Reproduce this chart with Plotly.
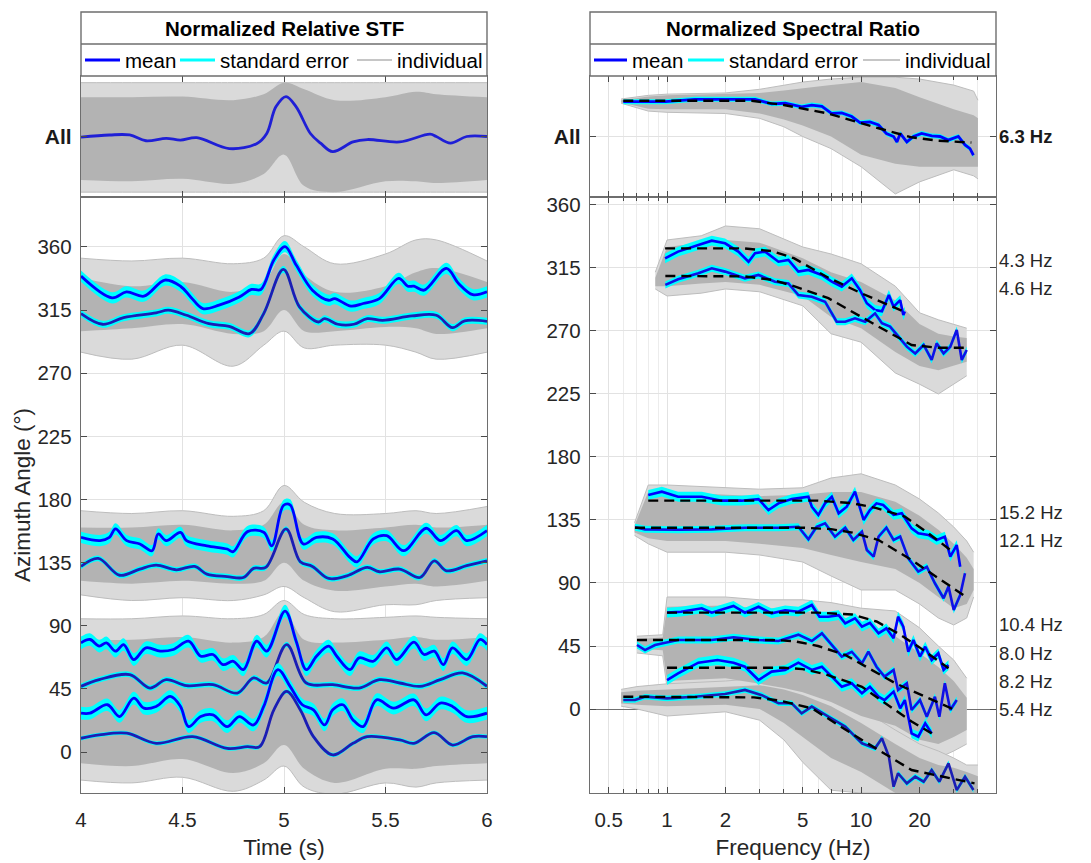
import plotly.graph_objects as go

# page body has an 8px margin; the figure is sized/positioned to compensate
OFF = 8
W, H = 1091 - OFF, 863 - OFF
FONT = "Liberation Sans, Arial, Helvetica, sans-serif"
BLUE = "#0000ff"
DBLUE = "#1c1cb4"
RBLUE = "#1010e6"
CYAN = "#00ffff"
G_IN = "#b3b3b3"
G_OUT = "#dadada"
G_EDGE = "#bdbdbd"

# ======================= LEFT: Normalized Relative STF =======================
# "All" panel (normalized amplitude, 0 = baseline)
all_t = [4.0, 4.14, 4.24, 4.32, 4.42, 4.49, 4.57, 4.73, 4.865, 4.915, 4.96, 5.01, 5.06, 5.13,
         5.18, 5.24, 5.34, 5.41, 5.57, 5.72, 5.75, 5.82, 5.90, 6.0]
all_mean = [-0.01, 0.025, 0.025, -0.07, -0.03, -0.06, -0.02, -0.2, -0.12, 0.05, 0.49, 0.66, 0.49,
            0.05, -0.11, -0.25, -0.09, -0.05, -0.09, 0.04, 0.0, -0.11, 0.0, 0.0]
env_t = [4.0, 4.25, 4.5, 4.75, 4.9, 5.0, 5.1, 5.25, 5.5, 5.65, 5.75, 6.0]
all_out_hi = [0.89, 0.89, 0.89, 0.89, 0.89, 0.89, 0.89, 0.89, 0.89, 0.89, 0.89, 0.89]
all_out_lo = [-0.92, -0.92, -0.92, -0.92, -0.92, -0.92, -0.92, -0.92, -0.92, -0.92, -0.92, -0.92]
all_in_hi = [0.65, 0.65, 0.66, 0.6, 0.7, 0.89, 0.78, 0.6, 0.65, 0.74, 0.7, 0.65]
all_in_lo = [-0.72, -0.74, -0.7, -0.78, -0.62, -0.3, -0.82, -0.92, -0.74, -0.74, -0.77, -0.72]

# azimuth-stacked mean STFs (deg)
a_t = [4.0, 4.153, 4.224, 4.31, 4.413, 4.49, 4.54, 4.60, 4.68, 4.78, 4.84, 4.886, 4.95, 5.005, 5.06,
       5.14, 5.22, 5.25, 5.33, 5.39, 5.47, 5.565, 5.61, 5.64, 5.69, 5.80, 5.86, 5.93, 6.0]
a_v = [339.2, 323.7, 328, 324.9, 336.4, 332, 324.4, 316.1, 318.5, 324.4, 329.7, 329.7, 350.7, 360.2,
       347.1, 329.2, 322, 323.2, 317.8, 319.7, 323.2, 337.6, 332, 332, 329.2, 344.7, 334, 326, 328]
b_t = [4.0, 4.106, 4.21, 4.37, 4.43, 4.52, 4.63, 4.73, 4.83, 4.90, 4.997, 5.076, 5.17, 5.20, 5.265,
       5.344, 5.41, 5.486, 5.63, 5.75, 5.83, 5.89, 6.0]
b_v = [312.5, 304.9, 309.6, 313, 314.9, 311.3, 305.3, 303.4, 298.2, 312.5, 344, 317.3, 306.5, 308.9,
       304.9, 304.9, 308.9, 307.7, 310.8, 311.3, 302.5, 307.3, 307]
c_t = [4.0, 4.094, 4.14, 4.17, 4.225, 4.29, 4.35, 4.38, 4.42, 4.49, 4.52, 4.62, 4.72, 4.75, 4.82, 4.90,
       4.94, 4.997, 5.03, 5.095, 5.16, 5.24, 5.325, 5.36, 5.44, 5.506, 5.59, 5.70, 5.77, 5.85, 5.90, 6.0]
c_v = [153, 150.7, 153, 159, 150.7, 148.3, 143.5, 155.4, 150.7, 156.6, 150.7, 147, 144.7, 142.8, 157.1,
       156.6, 147, 175.7, 176.2, 148.3, 153, 151.9, 138.7, 135.6, 151.9, 154.2, 143.5, 159.5, 150.7,
       157.8, 150.7, 157.8]
d_t = [4.0, 4.085, 4.19, 4.29, 4.37, 4.47, 4.56, 4.62, 4.72, 4.80, 4.85, 4.91, 5.01, 5.08, 5.14, 5.22,
       5.31, 5.41, 5.47, 5.57, 5.67, 5.74, 5.80, 5.90, 6.0]
d_v = [132.3, 138, 126, 130.4, 133.2, 129.9, 132.3, 126.8, 125.1, 124.4, 130.9, 131.6, 159, 135.6,
       132.3, 123.7, 125.6, 131.6, 128.5, 130.4, 124.4, 136.3, 129.2, 132.8, 136.3]
e_t = [4.0, 4.044, 4.09, 4.125, 4.17, 4.21, 4.26, 4.32, 4.39, 4.455, 4.53, 4.59, 4.65, 4.70, 4.75, 4.80,
       4.865, 4.915, 5.005, 5.06, 5.11, 5.16, 5.22, 5.26, 5.325, 5.37, 5.44, 5.506, 5.555, 5.64, 5.69,
       5.74, 5.785, 5.83, 5.90, 5.965, 6.0]
e_v = [77.8, 80.2, 75.5, 77.8, 71.9, 76.6, 65.9, 74.3, 71.9, 73.1, 79, 68.3, 69.5, 62.3, 64.7, 58.7,
       79, 71.9, 100.5, 79, 58.7, 68.3, 75.5, 68.3, 58.7, 67.1, 64.7, 74.3, 65.9, 78.3, 69.5, 71.9,
       62.3, 74.3, 65.9, 80.2, 76.6]
f_t = [4.0, 4.09, 4.24, 4.34, 4.42, 4.52, 4.65, 4.77, 4.85, 4.915, 5.013, 5.11, 5.24, 5.37, 5.47, 5.57,
       5.67, 5.77, 5.88, 6.0]
f_v = [46.8, 51.6, 55.2, 45.6, 51.6, 47.3, 48, 42, 52.8, 49.2, 76.6, 49.2, 48, 45.6, 51.6, 49.2, 46.8,
       51.6, 56.4, 46.8]
g_t = [4.0, 4.044, 4.13, 4.19, 4.26, 4.31, 4.37, 4.44, 4.49, 4.53, 4.59, 4.65, 4.72, 4.78, 4.85, 4.90,
       4.97, 5.03, 5.09, 5.145, 5.20, 5.24, 5.29, 5.34, 5.39, 5.456, 5.54, 5.64, 5.70, 5.77, 5.83, 5.90,
       6.0]
g_v = [27.7, 27.7, 33.7, 25.3, 38.4, 31.3, 32.5, 39.6, 32.5, 18.1, 25.3, 26.5, 18.1, 25.3, 19.3, 32.5,
       58.7, 46.8, 33.7, 30.1, 19.3, 30.1, 33.7, 22.9, 18.1, 37.2, 31.3, 37.2, 26.5, 34.9, 32.5, 25.3,
       27.7]
h_t = [4.0, 4.09, 4.225, 4.37, 4.55, 4.72, 4.82, 4.88, 4.95, 5.013, 5.08, 5.145, 5.24, 5.34, 5.41, 5.57,
       5.64, 5.74, 5.83, 5.93, 6.0]
h_v = [9.8, 12.2, 13.4, 6.2, 11, 2.6, 3.8, 3.8, 30.1, 43.2, 30.1, 11, -2.1, 6.2, 11, 8.6, 6.2, 13.8, 5,
       11, 11]
stf_se = [4.0, 2.5, 4.0, 2.0, 4.5, 2.0, 4.5, 1.5]

# gray envelopes of the individual STFs
top_out_hi = [352, 350, 352, 348, 352, 368, 360, 348, 355, 365, 365, 350]
top_out_lo = [285, 280, 290, 275, 290, 300, 288, 290, 290, 285, 280, 285]
top_in_hi = [338, 332, 335, 328, 335, 355, 340, 328, 332, 342, 345, 335]
top_in_lo = [300, 302, 305, 298, 300, 315, 300, 300, 303, 302, 298, 302]
mid_out_hi = [172, 170, 172, 168, 172, 190, 178, 170, 170, 172, 170, 175]
mid_out_lo = [112, 108, 110, 108, 112, 118, 110, 100, 105, 105, 108, 110]
mid_in_hi = [160, 160, 162, 158, 162, 178, 162, 158, 160, 162, 160, 162]
mid_in_lo = [122, 120, 122, 120, 122, 135, 122, 115, 118, 120, 118, 122]
low_out_hi = [95, 95, 97, 95, 98, 108, 98, 95, 96, 97, 96, 95]
low_out_lo = [-20, -22, -18, -28, -20, -10, -25, -30, -22, -25, -22, -20]
low_in_hi = [80, 80, 82, 78, 82, 100, 80, 78, 80, 82, 80, 82]
low_in_lo = [-8, -10, -5, -15, -8, 5, -12, -22, -12, -12, -10, -8]

# ======================= RIGHT: Normalized Spectral Ratio =======================
rall_f = [0.595, 0.77, 0.98, 1.39, 1.99, 2.52, 2.84, 3.46, 4.06, 4.94, 5.57, 6.28, 7.06, 7.95, 8.95,
          9.86, 11.1, 12.3, 13.5, 14.7, 15.3, 15.9, 17.2, 18.6, 20.5, 23.1, 25.5, 28.1, 31.7, 34.3,
          36.4, 37.9]
rall_v = [0.575, 0.58, 0.575, 0.615, 0.62, 0.625, 0.615, 0.54, 0.55, 0.49, 0.52, 0.5, 0.38, 0.39, 0.33,
          0.23, 0.24, 0.19, 0.05, 0.0, -0.09, 0.05, -0.09, 0.0, 0.05, 0.01, 0.0, -0.06, 0.0, -0.14,
          -0.2, -0.31]
dall_f = [0.595, 2.73, 4.0, 6.78, 12.3, 18.2, 25.0, 37.0]
dall_v = [0.59, 0.59, 0.52, 0.38, 0.136, -0.013, -0.07, -0.1]
renv_all_f = [0.58, 0.8, 1, 2, 3, 4, 5, 7, 10, 15, 20, 30, 38, 40]
renv_all_out_hi = [0.62, 0.68, 0.7, 0.72, 0.78, 0.85, 0.9, 0.95, 0.98, 0.98, 0.95, 0.85, 0.75, 0.6]
renv_all_out_lo = [0.55, 0.42, 0.4, 0.38, 0.3, 0.16, 0.0, -0.2, -0.5, -0.95, -0.75, -0.55, -0.65, -0.7]
renv_all_in_hi = [0.6, 0.66, 0.68, 0.7, 0.72, 0.76, 0.8, 0.85, 0.9, 0.8, 0.65, 0.45, 0.35, 0.3]
renv_all_in_lo = [0.56, 0.46, 0.45, 0.45, 0.38, 0.28, 0.18, 0.0, -0.3, -0.45, -0.5, -0.5, -0.5, -0.5]

r43_f = [0.977, 1.14, 1.45, 1.70, 1.99, 2.33, 2.63, 2.84, 3.20, 3.75, 4.22, 4.75, 5.35, 6.27, 7.06,
         7.95, 8.95, 9.86, 10.7, 11.8, 12.8, 13.9, 14.7, 15.9, 16.5, 16.8]
r43_v = [321.9, 326.7, 331.4, 334.5, 332.6, 326.7, 319.5, 325.5, 326.7, 319.5, 320.7, 312.4, 313.6,
         310, 305.2, 301.7, 307.6, 299.3, 289.8, 285, 284, 295.7, 287.4, 292, 281.4, 284]
d43_f = [0.977, 2.5, 3.5, 4.5, 6.78, 10.0, 16.5]
d43_v = [329, 329, 327, 322, 308, 297, 284]
r46_f = [0.98, 1.14, 1.45, 1.70, 1.99, 2.52, 2.96, 3.60, 4.22, 4.75, 5.57, 6.52, 7.48, 8.28, 9.3, 10.5,
         11.8, 12.8, 14.1, 15.5, 17.2, 19.0, 21.0, 23.1, 24.5, 26.6, 28.8, 31.1, 33.0, 35.0]
r46_v = [302.9, 306.9, 311.2, 314.8, 312.4, 307.6, 310, 305.2, 304, 295.7, 294.5, 290.9, 276.6, 276.6,
         279, 276.6, 282.6, 275.5, 273.1, 265.9, 258.8, 254, 260, 249.3, 261.2, 254, 258.8, 270.7,
         249.3, 256.4]
d46_f = [0.98, 2.5, 3.5, 4.5, 6.78, 9.0, 12.3, 18.2, 25.0, 35.0]
d46_v = [309.3, 309, 306.5, 302, 293.4, 284, 273.1, 260, 258, 258]
r152_f = [0.80, 0.94, 1.14, 1.51, 1.91, 2.42, 2.96, 3.33, 3.75, 4.39, 5.35, 5.57, 6.02, 6.52, 7.06,
          7.66, 8.43, 9.3, 10.3, 11.1, 12.0, 13.0, 14.7, 16.2, 18.2, 19.7, 22.2, 24.5, 27.0, 28.8,
          31.1, 32.4]
r152_v = [152.9, 155.2, 151.6, 151.6, 148.8, 148.8, 149.9, 142.1, 146.9, 149.9, 151.6, 144.5, 138.6,
          146.9, 151.6, 139.8, 144.5, 155.2, 135, 142.1, 146.9, 145.7, 138.6, 139.8, 129, 125.5, 124.3,
          120.7, 123.1, 108.8, 117.1, 101.6]
d152_f = [0.80, 6.0, 9.0, 12.0, 16.8, 22.0, 30.0]
d152_v = [148.8, 148.8, 147, 143.5, 137.4, 126, 111.7]
r121_f = [0.684, 0.77, 1.14, 1.70, 2.52, 3.75, 4.75, 5.35, 5.9, 6.52, 7.33, 8.28, 9.12, 10.1, 10.7,
          11.6, 12.3, 13.5, 14.7, 15.9, 17.5, 19.7, 21.8, 24.0, 26.6, 28.2, 30.0, 32.4, 34.3]
r121_v = [129.8, 128.3, 128, 128.3, 129.5, 129.5, 130.2, 121.2, 130.2, 132.6, 123.1, 129.5, 120.7,
          126.6, 113.6, 108.8, 123.1, 129.5, 120.7, 123.1, 107.6, 98.1, 101.6, 89.8, 79.1, 87.4, 70.7,
          81.4, 96.9]
d121_f = [0.684, 5.0, 7.0, 9.0, 12.3, 18.2, 33.6]
d121_v = [129.5, 129.5, 128.5, 126, 120.7, 106.4, 81.4]
r104_f = [1.0, 1.18, 1.51, 1.70, 2.2, 2.52, 2.96, 3.46, 4.06, 4.75, 5.57, 6.1, 6.78, 7.66, 8.28, 9.3,
          10.1, 11.1, 12.3, 13.5, 14.7, 15.5, 16.5, 17.5, 18.6, 20.1, 21.4, 23.1, 25.0, 26.6, 28.2]
r104_v = [68.8, 69.5, 71.9, 68.8, 73.6, 68.8, 73, 68.3, 70.5, 69.5, 74.3, 65.9, 65.9, 67, 61.2, 64.8,
          58.8, 61.5, 54, 57.6, 50.5, 65.9, 58.8, 40.9, 49.3, 37.4, 44.5, 35, 39.8, 27.9, 31.4]
d104_f = [1.0, 6.0, 9.0, 12.0, 15.5, 20.0, 28.2]
d104_v = [68.8, 68.8, 67.5, 62.5, 54, 44, 29.1]
r80_f = [0.70, 0.77, 0.867, 1.14, 1.70, 2.2, 2.96, 3.75, 4.75, 5.57, 6.28, 7.06, 7.95, 8.95, 10.1, 10.9,
         12.0, 13.2, 14.7, 15.5, 17.2, 18.2, 20.1, 21.8, 24.0, 25.3, 27.0, 28.8, 31.1]
r80_v = [45.7, 42.1, 45.7, 49.3, 49.3, 51.2, 49.3, 48.6, 53.1, 48.6, 54, 45.7, 37.4, 40.9, 32.6, 40.9,
         30.2, 23.1, 27.9, 13.6, 18.4, -0.7, 6.4, -5.5, 8.8, -5.5, 18.4, -0.7, 6.4]
d80_f = [0.70, 3.5, 4.5, 6.0, 8.28, 15.0, 30.4]
d80_v = [49.3, 49.3, 48.5, 45, 38.6, 18.4, -0.7]
r82_f = [1.0, 1.14, 1.45, 1.82, 2.2, 2.52, 2.96, 3.46, 4.06, 4.75, 5.57, 6.28, 7.06, 7.95, 8.95, 10.1,
         11.1, 12.3, 13.2, 14.7, 15.9, 16.8, 18.2, 19.7, 21.4, 23.1]
r82_v = [20.7, 25.5, 33.1, 35, 33.1, 30.2, 20.7, 26.7, 27.9, 33.1, 27.9, 30.2, 23.1, 15.9, 18.4, 11.2,
         15.9, 8.8, 6.4, 12.4, 0.5, 6.4, -17.4, -19.8, -10.2, -17.4]
d82_f = [1.0, 4.0, 5.0, 6.5, 10.1, 18.2, 23.1]
d82_v = [29.5, 29.5, 28.5, 25, 15.9, -9, -17.4]
r54_f = [0.595, 0.684, 0.77, 1.0, 1.39, 1.99, 2.52, 3.08, 3.75, 4.39, 4.94, 5.57, 6.78, 8.28, 10.1,
         11.8, 12.8, 13.9, 14.7, 15.5, 17.2, 19.0, 21.0, 23.1, 25.3, 28.2, 31.1, 34.3, 37.9]
r54_v = [6.4, 6.4, 8.8, 7.6, 8.8, 10.7, 13.6, 9.9, 4.1, 4.1, -3.1, 1.7, -5.5, -12.6, -24.5, -28.1,
         -20.9, -34, -55.5, -45.9, -53.1, -48.3, -51.9, -43.6, -51.9, -38.8, -57.9, -48.3, -57.9]
d54_f = [0.595, 2.0, 2.8, 3.8, 5.57, 10.1, 18.2, 38.4]
d54_v = [8.8, 8.8, 8.3, 6, 0.5, -22.1, -43.6, -53.1]
spec_se = [3.5, 2.5, 3.5, 2.5, 3.5, 2.5, 3.5, 2.0]
spec_all_se = 0.04

# gray envelopes of individual spectral ratios
e1_f = [0.87, 1.0, 1.5, 2, 3, 5, 7, 10, 15, 20, 25, 30, 35]
e1_out_hi = [312, 335, 338, 345, 343, 330, 325, 318, 302, 283, 278, 275, 272]
e1_out_lo = [300, 295, 297, 300, 298, 288, 268, 262, 240, 232, 225, 232, 238]
e1_in_hi = [308, 330, 333, 335, 333, 322, 312, 305, 292, 275, 268, 266, 265]
e1_in_lo = [302, 302, 304, 305, 303, 295, 280, 272, 255, 245, 242, 245, 248]
e2_f = [0.68, 0.8, 1.0, 2, 3, 5, 7, 10, 15, 20, 25, 30, 35, 38]
e2_out_hi = [133, 160, 160, 158, 157, 158, 165, 168, 160, 150, 140, 130, 120, 112]
e2_out_lo = [124, 118, 112, 112, 110, 105, 95, 85, 85, 75, 65, 60, 65, 80]
e2_in_hi = [131, 155, 155, 153, 152, 153, 155, 155, 148, 138, 128, 118, 108, 100]
e2_in_lo = [126, 122, 120, 120, 118, 115, 110, 105, 100, 90, 80, 72, 75, 85]
e3_f = [0.7, 0.95, 1.0, 2, 3, 4, 5, 7, 10, 15, 20, 25, 30, 35]
e3_out_hi = [52, 53, 80, 80, 78, 78, 78, 76, 72, 70, 58, 45, 35, 22]
e3_out_lo = [40, 38, 15, 15, 12, 10, 8, 0, -10, -20, -30, -35, -30, -25]
e3_in_hi = [50, 51, 73, 74, 72, 72, 70, 68, 62, 52, 40, 30, 20, 8]
e3_in_lo = [43, 42, 20, 22, 18, 15, 12, 5, -5, -12, -22, -25, -20, -15]
e4_f = [0.58, 0.7, 1.0, 2, 3, 4, 5, 7, 10, 15, 20, 25, 30, 35, 40]
e4_out_hi = [14, 16, 18, 20, 22, 20, 15, 10, 0, -15, -25, -30, -35, -40, -40]
e4_out_lo = [2, 0, -5, -2, -8, -22, -38, -58, -60, -60, -60, -60, -60, -60, -60]
e4_in_hi = [12, 13, 14, 16, 17, 14, 10, 2, -10, -25, -35, -40, -42, -45, -48]
e4_in_lo = [4, 3, 2, 3, 0, -10, -20, -35, -45, -60, -60, -60, -60, -60, -60]

hz_labels = ["4.3 Hz", "4.6 Hz", "15.2 Hz", "12.1 Hz", "10.4 Hz", "8.0 Hz", "8.2 Hz", "5.4 Hz"]
hz_pos = [320, 300, 140, 120, 60, 40, 20, 0]

fig = go.Figure()


def band(x, lo, hi, color, xa, ya, shape="linear", edge=None):
    ew = 1 if edge else 0
    ec = edge if edge else color
    fig.add_trace(go.Scatter(x=x, y=lo, mode="lines", line=dict(width=ew, color=ec, shape=shape),
                             xaxis=xa, yaxis=ya, showlegend=False, hoverinfo="skip"))
    fig.add_trace(go.Scatter(x=x, y=hi, mode="lines", line=dict(width=ew, color=ec, shape=shape),
                             fill="tonexty", fillcolor=color, xaxis=xa, yaxis=ya,
                             showlegend=False, hoverinfo="skip"))


def mean_line(x, y, se, color, xa, ya, shape="linear", width=2.8):
    band(x, [v - se for v in y], [v + se for v in y], CYAN, xa, ya, shape)
    fig.add_trace(go.Scatter(x=x, y=y, mode="lines", line=dict(color=color, width=width, shape=shape),
                             xaxis=xa, yaxis=ya, showlegend=False))


def dashed(x, y, xa, ya):
    fig.add_trace(go.Scatter(x=x, y=y, mode="lines",
                             line=dict(color="black", width=2.4, dash="10px,6px"),
                             xaxis=xa, yaxis=ya, showlegend=False))


# ---- left top (All)
band(env_t, all_out_lo, all_out_hi, G_OUT, "x2", "y2", "spline", G_EDGE)
band(env_t, all_in_lo, all_in_hi, G_IN, "x2", "y2", "spline")
fig.add_trace(go.Scatter(x=all_t, y=all_mean, mode="lines",
                         line=dict(color="#1f1fd6", width=2.8, shape="spline"),
                         xaxis="x2", yaxis="y2", showlegend=False))

# ---- left bottom
for lo, hi, c, ed in [(top_out_lo, top_out_hi, G_OUT, G_EDGE), (top_in_lo, top_in_hi, G_IN, None),
                      (mid_out_lo, mid_out_hi, G_OUT, G_EDGE), (mid_in_lo, mid_in_hi, G_IN, None),
                      (low_out_lo, low_out_hi, G_OUT, G_EDGE), (low_in_lo, low_in_hi, G_IN, None)]:
    band(env_t, lo, hi, c, "x", "y", "spline", ed)
stf_curves = [(a_t, a_v, BLUE), (b_t, b_v, DBLUE), (c_t, c_v, BLUE), (d_t, d_v, DBLUE),
              (e_t, e_v, BLUE), (f_t, f_v, DBLUE), (g_t, g_v, BLUE), (h_t, h_v, DBLUE)]
for (tt, vv, col), se in zip(stf_curves, stf_se):
    mean_line(tt, vv, se, col, "x", "y", "spline")

# ---- right top (All)
band(renv_all_f, renv_all_out_lo, renv_all_out_hi, G_OUT, "x4", "y4", "linear", G_EDGE)
band(renv_all_f, renv_all_in_lo, renv_all_in_hi, G_IN, "x4", "y4")
mean_line(rall_f, rall_v, spec_all_se, BLUE, "x4", "y4")
dashed(dall_f, dall_v, "x4", "y4")

# ---- right bottom
for ff, lo, hi, c, ed in [(e1_f, e1_out_lo, e1_out_hi, G_OUT, G_EDGE), (e1_f, e1_in_lo, e1_in_hi, G_IN, None),
                          (e2_f, e2_out_lo, e2_out_hi, G_OUT, G_EDGE), (e2_f, e2_in_lo, e2_in_hi, G_IN, None),
                          (e3_f, e3_out_lo, e3_out_hi, G_OUT, G_EDGE), (e4_f, e4_out_lo, e4_out_hi, G_OUT, G_EDGE),
                          (e3_f, e3_in_lo, e3_in_hi, G_IN, None), (e4_f, e4_in_lo, e4_in_hi, G_IN, None)]:
    band(ff, lo, hi, c, "x3", "y3", "linear", ed)
spec_curves = [(r43_f, r43_v, BLUE), (r46_f, r46_v, RBLUE), (r152_f, r152_v, BLUE),
               (r121_f, r121_v, RBLUE), (r104_f, r104_v, BLUE), (r80_f, r80_v, RBLUE),
               (r82_f, r82_v, BLUE), (r54_f, r54_v, DBLUE)]
for (ff, vv, col), se in zip(spec_curves, spec_se):
    mean_line(ff, vv, se, col, "x3", "y3", width=2.6)
for ff, vv in [(d43_f, d43_v), (d46_f, d46_v), (d152_f, d152_v), (d121_f, d121_v),
               (d104_f, d104_v), (d80_f, d80_v), (d82_f, d82_v), (d54_f, d54_v)]:
    dashed(ff, vv, "x3", "y3")


# ---------------- layout ----------------
def PX(x):
    return (x - OFF) / W


def PY(y):
    return 1 - (y - OFF) / H


XL = [PX(81), PX(487)]
XR = [PX(590), PX(996)]
YB = [PY(793), PY(197)]
YT = [PY(197), PY(76)]
AX = dict(showline=True, linecolor="#6e6e6e", linewidth=1.4, mirror="ticks", ticks="inside",
          ticklen=6, tickcolor="#4a4a4a", showgrid=True, gridcolor="#e2e2e2", gridwidth=1,
          zeroline=False, automargin=False,
          tickfont=dict(family=FONT, size=20.5, color="#262626"))
log_minor = dict(tickvals=[0.4, 0.6, 0.7, 0.8, 0.9, 3, 4, 6, 7, 8, 9, 30, 40], ticks="inside",
                 ticklen=4, tickcolor="#4a4a4a", showgrid=True, gridcolor="#ececec")
xr_ticks = [0.5, 1, 2, 5, 10, 20, 50]

fig.update_layout(
    width=W, height=H, margin=dict(l=0, r=0, t=0, b=0),
    paper_bgcolor="white", plot_bgcolor="white", showlegend=False,
    font=dict(family=FONT, color="#262626"),
    xaxis=dict(AX, domain=XL, range=[4, 6], tickvals=[4, 4.5, 5, 5.5, 6],
               ticktext=["4", "4.5", "5", "5.5", "6"], anchor="y", ticklabelstandoff=8,
               title=dict(text="Time (s)", font=dict(size=22.5), standoff=9)),
    yaxis=dict(AX, domain=YB, range=[-29.2, 395.6], tickvals=list(range(0, 361, 45)), anchor="x",
               ticklabelstandoff=4,
               title=dict(text="Azimuth Angle (°)", font=dict(size=22.5), standoff=0)),
    xaxis2=dict(AX, domain=XL, range=[4, 6], tickvals=[4, 4.5, 5, 5.5, 6], showticklabels=False,
                anchor="y2", matches="x"),
    yaxis2=dict(AX, domain=YT, range=[-1, 1], tickvals=[0], ticktext=["<b>All</b>"], anchor="x2",
                ticklabelstandoff=4, tickfont=dict(family=FONT, size=21, color="#1a1a1a")),
    xaxis3=dict(AX, domain=XR, type="log", range=[-0.397, 1.695], tickvals=xr_ticks,
                ticktext=[str(v) for v in xr_ticks], minor=log_minor, anchor="y3", ticklabelstandoff=8,
                title=dict(text="Frequency (Hz)", font=dict(size=22.5), standoff=9)),
    yaxis3=dict(AX, domain=YB, range=[-60, 365.7], tickvals=list(range(0, 361, 45)), anchor="x3",
                ticklabelstandoff=4, zeroline=True, zerolinecolor="#707070", zerolinewidth=1.4),
    xaxis4=dict(AX, domain=XR, type="log", range=[-0.397, 1.695], tickvals=xr_ticks,
                showticklabels=False, minor=log_minor, anchor="y4"),
    yaxis4=dict(AX, domain=YT, range=[-1, 1], tickvals=[0], ticktext=["<b>All</b>"], anchor="x4",
                ticklabelstandoff=4, tickfont=dict(family=FONT, size=21, color="#1a1a1a")),
)

shapes = []
annotations = []

for (x0, x1, title, leg) in [
    (81, 487, "Normalized Relative STF",
     [(85, 120, BLUE, 3, 123, "mean"), (180, 215, CYAN, 3, 218, "standard error"),
      (357, 392, "#b3b3b3", 1.5, 395, "individual")]),
    (590, 996, "Normalized Spectral Ratio",
     [(594, 627, BLUE, 3, 630, "mean"), (688, 724, CYAN, 3, 727, "standard error"),
      (863, 900, "#b3b3b3", 1.5, 903, "individual")]),
]:
    shapes.append(dict(type="rect", xref="paper", yref="paper", x0=PX(x0), x1=PX(x1), y0=PY(76),
                       y1=PY(12), line=dict(color="#6e6e6e", width=1.4), fillcolor="white",
                       layer="above"))
    shapes.append(dict(type="line", xref="paper", yref="paper", x0=PX(x0), x1=PX(x1), y0=PY(44),
                       y1=PY(44), line=dict(color="#6e6e6e", width=1.4)))
    annotations.append(dict(x=PX((x0 + x1) / 2), y=PY(28.5), xref="paper", yref="paper",
                            text="<b>" + title + "</b>", showarrow=False, xanchor="center",
                            yanchor="middle", font=dict(family=FONT, size=20.5, color="black")))
    for (l0, l1, col, wd, tx, txt) in leg:
        shapes.append(dict(type="line", xref="paper", yref="paper", x0=PX(l0), x1=PX(l1),
                           y0=PY(60), y1=PY(60), line=dict(color=col, width=wd)))
        annotations.append(dict(x=PX(tx), y=PY(60.5), xref="paper", yref="paper", text=txt,
                                showarrow=False, xanchor="left", yanchor="middle",
                                font=dict(family=FONT, size=20.5, color="black")))

for lab, pos in zip(hz_labels, hz_pos):
    annotations.append(dict(x=PX(997), y=pos, xref="paper", yref="y3", text=lab, showarrow=False,
                            xanchor="left", yanchor="middle",
                            font=dict(family=FONT, size=18.5, color="#262626")))
annotations.append(dict(x=PX(997), y=0, xref="paper", yref="y4", text="<b>6.3 Hz</b>",
                        showarrow=False, xanchor="left", yanchor="middle",
                        font=dict(family=FONT, size=18.5, color="#1a1a1a")))

fig.update_layout(shapes=shapes, annotations=annotations)
fig.write_html("out.html")
